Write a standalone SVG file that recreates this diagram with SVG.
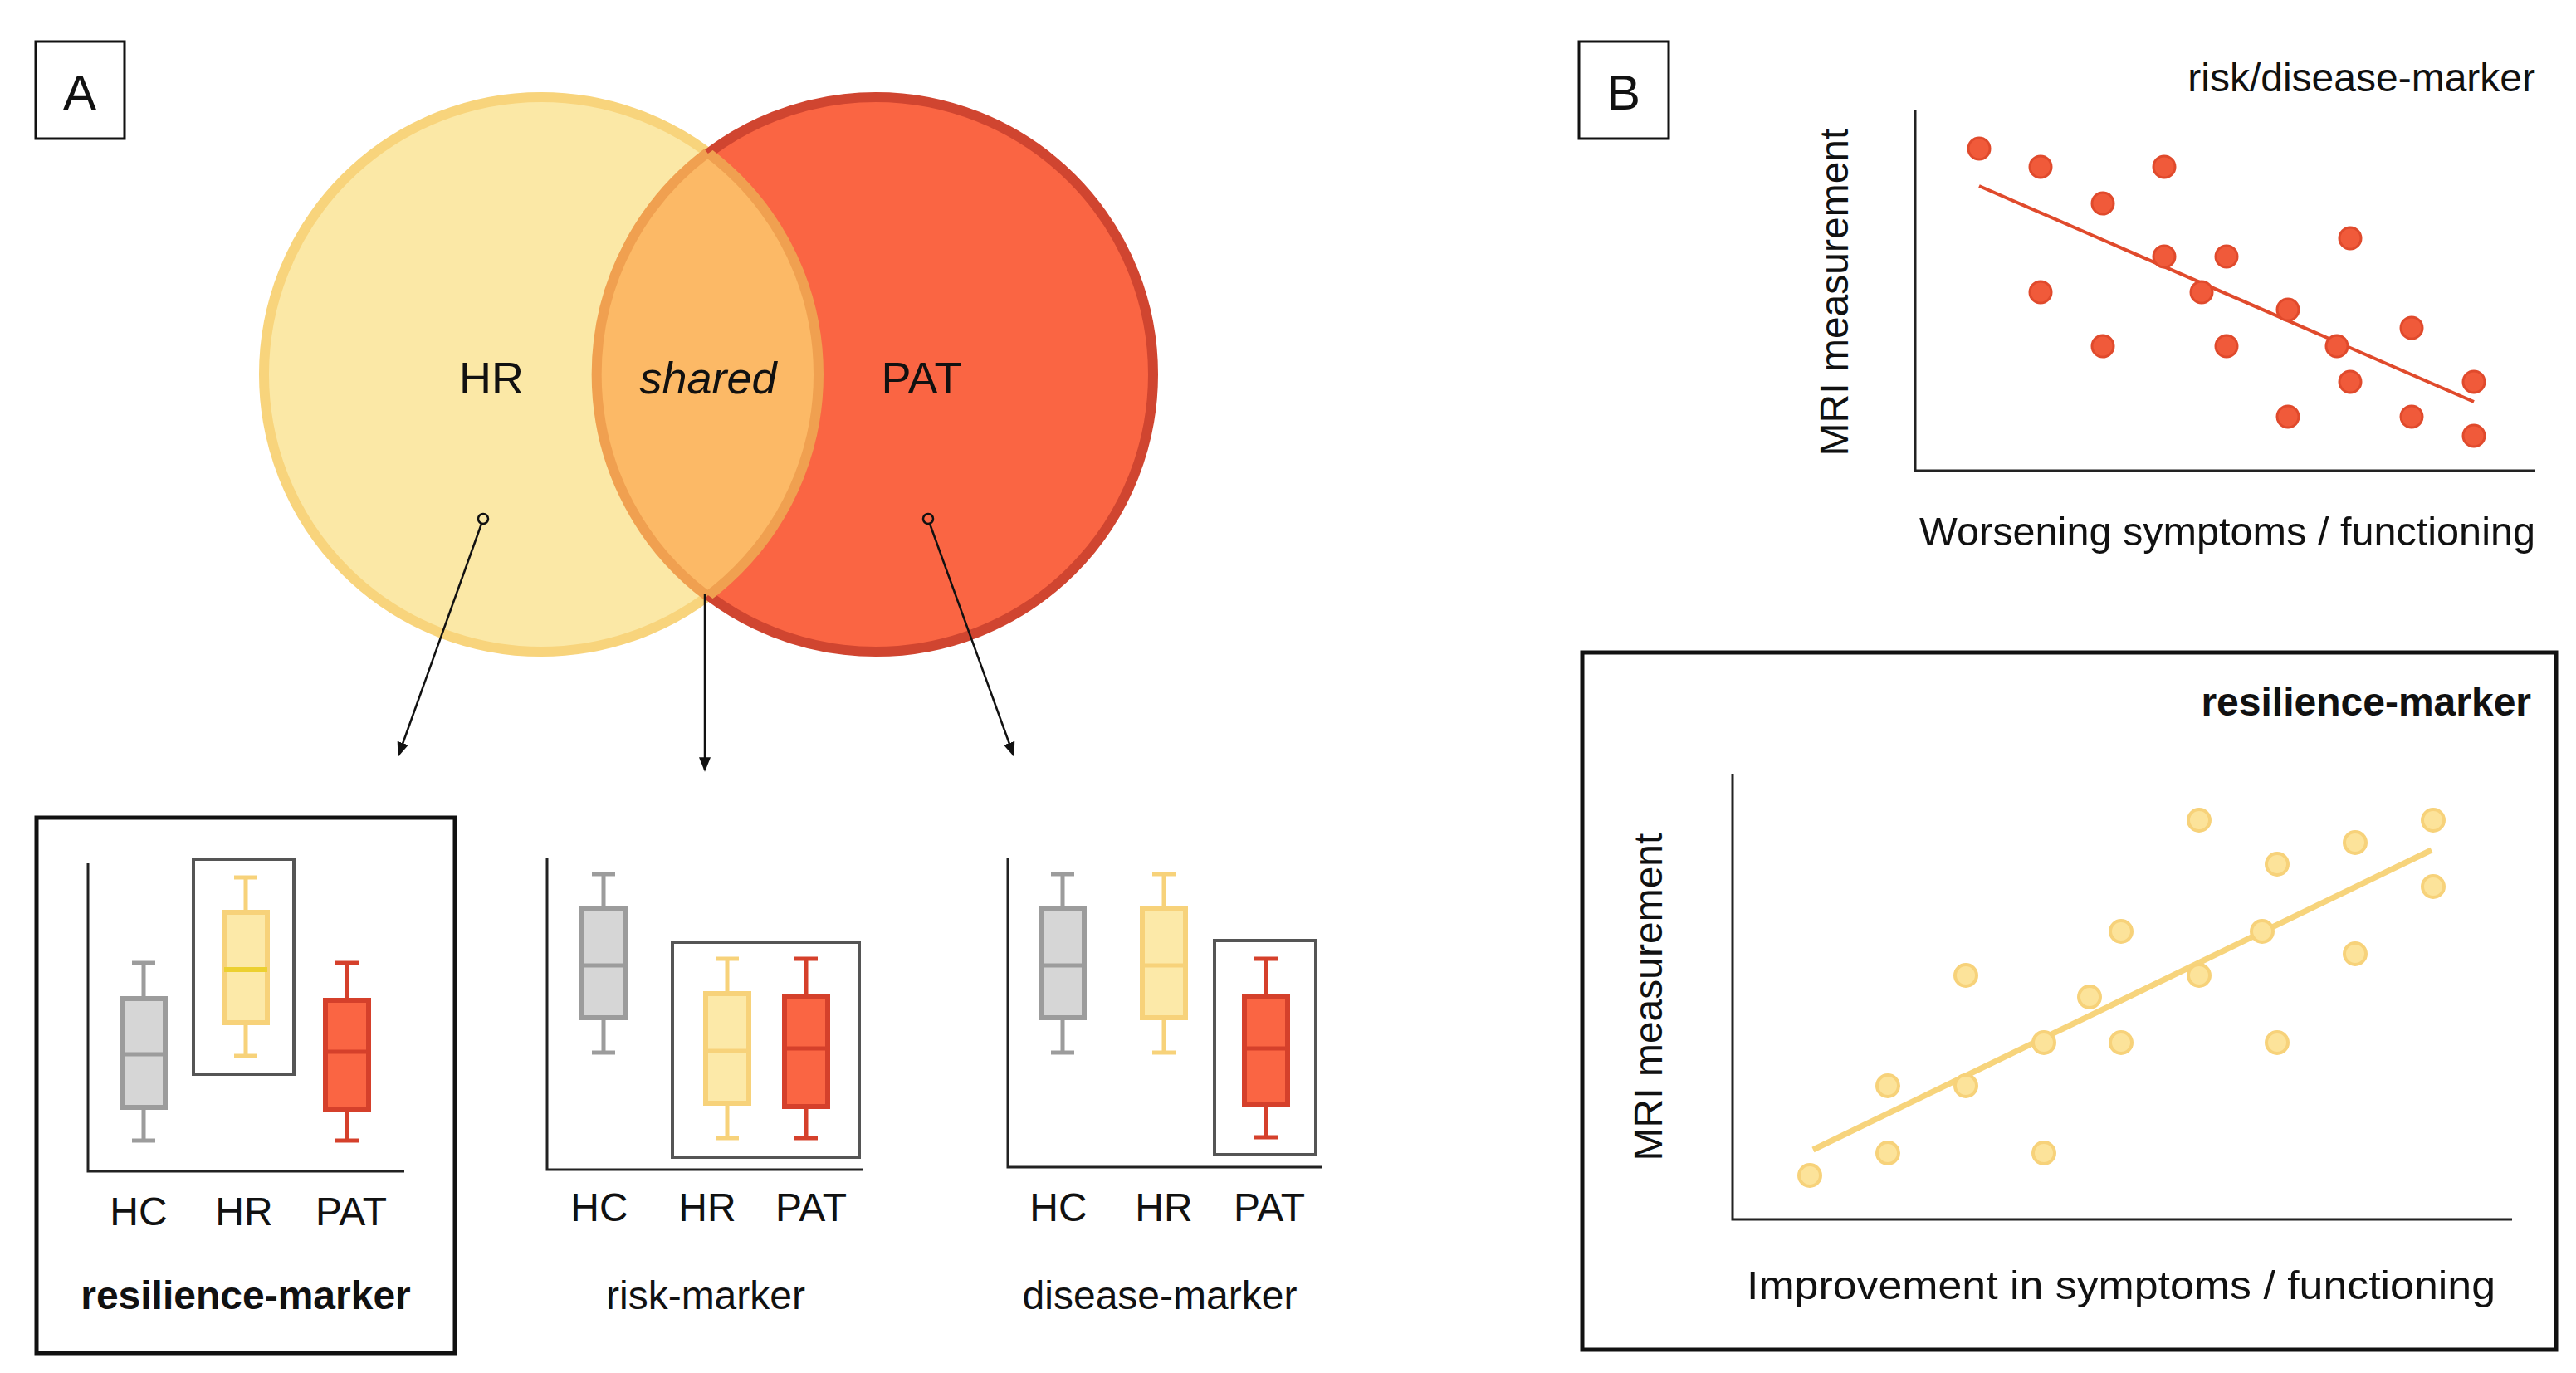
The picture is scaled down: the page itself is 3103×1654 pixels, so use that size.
<svg xmlns="http://www.w3.org/2000/svg" width="3103" height="1654" viewBox="0 0 3103 1654">
<style>
text{font-family:"Liberation Sans",Arial,sans-serif;fill:#111}
.lbl{font-size:48px;text-anchor:middle}
.frame{fill:none;stroke:#111}
.axis{fill:none;stroke:#222;stroke-width:3}
.hl{fill:none;stroke:#555;stroke-width:4}
.g{fill:#d6d6d6;stroke:#9c9c9c;stroke-width:6}
.y{fill:#fce9a8;stroke:#f7d27a;stroke-width:6}
.r{fill:#fa6543;stroke:#d5402b;stroke-width:6}
.wg{stroke:#9c9c9c;stroke-width:5}
.wy{stroke:#f7d27a;stroke-width:5}
.wr{stroke:#d5402b;stroke-width:5}
.dr{fill:#f05a3a;stroke:#e04a2c;stroke-width:3}
.dy{fill:#fce39a;stroke:#f7d27a;stroke-width:4}
.conn{stroke:#111;stroke-width:2.5;fill:none;marker-end:url(#ah)}
</style>
<defs>
<marker id="ah" viewBox="0 0 10 10" refX="9" refY="5" markerWidth="7" markerHeight="7" orient="auto"><path d="M0,1 L10,5 L0,9 z" fill="#111"/></marker>
<clipPath id="redclip"><circle cx="1055" cy="451" r="334"/></clipPath>
</defs>
<rect width="3103" height="1654" fill="#fff"/>

<g id="labelA"><rect x="43" y="50" width="107" height="117" class="frame" stroke-width="3"/><text x="96" y="132" font-size="60" text-anchor="middle">A</text></g>

<g id="venn">
<circle cx="652" cy="451" r="334" fill="#fbe8a6" stroke="#f8d47c" stroke-width="12"/>
<circle cx="1055" cy="451" r="334" fill="#fa6543" stroke="#d04530" stroke-width="12"/>
<g clip-path="url(#redclip)"><circle cx="652" cy="451" r="334" fill="#fcb966" stroke="#f0a050" stroke-width="12"/></g>
<path d="M852,184 A334,334 0 0 0 852,718" fill="none" stroke="#f0a050" stroke-width="12"/>
<text x="592" y="474" font-size="54" text-anchor="middle">HR</text>
<text x="853" y="474" font-size="54" text-anchor="middle" font-style="italic">shared</text>
<text x="1110" y="474" font-size="54" text-anchor="middle">PAT</text>
<circle cx="582" cy="625" r="6" fill="none" stroke="#111" stroke-width="2.5"/>
<circle cx="1118" cy="625" r="6" fill="none" stroke="#111" stroke-width="2.5"/>
</g>

<g id="connectors">
<line x1="580" y1="631" x2="480" y2="910" class="conn"/>
<line x1="849" y1="716" x2="849" y2="928" class="conn"/>
<line x1="1120" y1="631" x2="1221" y2="910" class="conn"/>
</g>

<g id="panel-resilience">
<rect x="44" y="985" width="504" height="645" class="frame" stroke-width="5"/>
<polyline points="106,1040 106,1411 487,1411" class="axis"/>
<rect x="233" y="1035" width="121" height="259" class="hl"/>
<line x1="173" y1="1160" x2="173" y2="1374" class="wg"/><line x1="159" y1="1160" x2="187" y2="1160" class="wg"/><line x1="159" y1="1374" x2="187" y2="1374" class="wg"/>
<rect x="147" y="1203" width="52" height="131" class="g"/><line x1="147" y1="1270" x2="199" y2="1270" class="wg"/>
<line x1="296" y1="1057" x2="296" y2="1272" class="wy"/><line x1="282" y1="1057" x2="310" y2="1057" class="wy"/><line x1="282" y1="1272" x2="310" y2="1272" class="wy"/>
<rect x="270" y="1099" width="52" height="133" class="y"/><line x1="270" y1="1168" x2="322" y2="1168" stroke="#ecd030" stroke-width="6"/>
<line x1="418" y1="1160" x2="418" y2="1374" class="wr"/><line x1="404" y1="1160" x2="432" y2="1160" class="wr"/><line x1="404" y1="1374" x2="432" y2="1374" class="wr"/>
<rect x="392" y="1205" width="52" height="131" class="r"/><line x1="392" y1="1267" x2="444" y2="1267" class="wr"/>
<text x="167" y="1476" class="lbl">HC</text><text x="294" y="1476" class="lbl">HR</text><text x="423" y="1476" class="lbl">PAT</text>
<text x="296" y="1577" class="lbl" font-weight="bold">resilience-marker</text>
</g>

<g id="panel-risk">
<polyline points="659,1033 659,1409 1040,1409" class="axis"/>
<rect x="810" y="1135" width="225" height="259" class="hl"/>
<line x1="727" y1="1053" x2="727" y2="1268" class="wg"/><line x1="713" y1="1053" x2="741" y2="1053" class="wg"/><line x1="713" y1="1268" x2="741" y2="1268" class="wg"/>
<rect x="701" y="1094" width="52" height="132" class="g"/><line x1="701" y1="1163" x2="753" y2="1163" class="wg"/>
<line x1="876" y1="1155" x2="876" y2="1371" class="wy"/><line x1="862" y1="1155" x2="890" y2="1155" class="wy"/><line x1="862" y1="1371" x2="890" y2="1371" class="wy"/>
<rect x="850" y="1197" width="52" height="132" class="y"/><line x1="850" y1="1266" x2="902" y2="1266" class="wy"/>
<line x1="971" y1="1155" x2="971" y2="1371" class="wr"/><line x1="957" y1="1155" x2="985" y2="1155" class="wr"/><line x1="957" y1="1371" x2="985" y2="1371" class="wr"/>
<rect x="945" y="1200" width="52" height="133" class="r"/><line x1="945" y1="1263" x2="997" y2="1263" class="wr"/>
<text x="722" y="1471" class="lbl">HC</text><text x="852" y="1471" class="lbl">HR</text><text x="977" y="1471" class="lbl">PAT</text>
<text x="850" y="1577" class="lbl">risk-marker</text>
</g>

<g id="panel-disease">
<polyline points="1214,1033 1214,1406 1593,1406" class="axis"/>
<rect x="1463" y="1133" width="122" height="258" class="hl"/>
<line x1="1280" y1="1053" x2="1280" y2="1268" class="wg"/><line x1="1266" y1="1053" x2="1294" y2="1053" class="wg"/><line x1="1266" y1="1268" x2="1294" y2="1268" class="wg"/>
<rect x="1254" y="1094" width="52" height="132" class="g"/><line x1="1254" y1="1163" x2="1306" y2="1163" class="wg"/>
<line x1="1402" y1="1053" x2="1402" y2="1268" class="wy"/><line x1="1388" y1="1053" x2="1416" y2="1053" class="wy"/><line x1="1388" y1="1268" x2="1416" y2="1268" class="wy"/>
<rect x="1376" y="1094" width="52" height="132" class="y"/><line x1="1376" y1="1163" x2="1428" y2="1163" class="wy"/>
<line x1="1525" y1="1155" x2="1525" y2="1370" class="wr"/><line x1="1511" y1="1155" x2="1539" y2="1155" class="wr"/><line x1="1511" y1="1370" x2="1539" y2="1370" class="wr"/>
<rect x="1499" y="1200" width="52" height="131" class="r"/><line x1="1499" y1="1263" x2="1551" y2="1263" class="wr"/>
<text x="1275" y="1471" class="lbl">HC</text><text x="1402" y="1471" class="lbl">HR</text><text x="1529" y="1471" class="lbl">PAT</text>
<text x="1397" y="1577" class="lbl">disease-marker</text>
</g>

<g transform="translate(-6,0)">
<g id="labelB"><rect x="1908" y="50" width="108" height="117" class="frame" stroke-width="3"/><text x="1962" y="132" font-size="60" text-anchor="middle">B</text></g>

<g id="scatter-risk">
<text x="3060" y="110" font-size="48" text-anchor="end">risk/disease-marker</text>
<polyline points="2313,133 2313,567 3060,567" class="axis"/>
<text transform="translate(2232,352) rotate(-90)" font-size="48" text-anchor="middle">MRI measurement</text>
<text x="2318" y="657" font-size="48" textLength="742" lengthAdjust="spacingAndGlyphs">Worsening symptoms / functioning</text>
<line x1="2390" y1="224" x2="2986" y2="484" stroke="#e04a2c" stroke-width="4"/>
<g class="dr">
<circle cx="2390" cy="179" r="13"/><circle cx="2464" cy="201" r="13"/><circle cx="2613" cy="201" r="13"/><circle cx="2539" cy="245" r="13"/><circle cx="2837" cy="287" r="13"/><circle cx="2613" cy="309" r="13"/><circle cx="2688" cy="309" r="13"/><circle cx="2464" cy="352" r="13"/><circle cx="2658" cy="352" r="13"/><circle cx="2762" cy="373" r="13"/><circle cx="2911" cy="395" r="13"/><circle cx="2539" cy="417" r="13"/><circle cx="2688" cy="417" r="13"/><circle cx="2821" cy="417" r="13"/><circle cx="2837" cy="460" r="13"/><circle cx="2986" cy="460" r="13"/><circle cx="2762" cy="502" r="13"/><circle cx="2911" cy="502" r="13"/><circle cx="2986" cy="525" r="13"/>
</g>
</g>

<g id="scatter-resilience">
<rect x="1912" y="786" width="1173" height="840" class="frame" stroke-width="5"/>
<text x="3055" y="862" font-size="48" text-anchor="end" font-weight="bold">resilience-marker</text>
<polyline points="2093,933 2093,1469 3032,1469" class="axis"/>
<text transform="translate(2008,1201) rotate(-90)" font-size="48" text-anchor="middle">MRI measurement</text>
<text x="2110" y="1565" font-size="48" textLength="902" lengthAdjust="spacingAndGlyphs">Improvement in symptoms / functioning</text>
<line x1="2190" y1="1385" x2="2935" y2="1024" stroke="#f7d47c" stroke-width="7"/>
<g class="dy">
<circle cx="2186" cy="1416" r="13"/><circle cx="2280" cy="1389" r="13"/><circle cx="2468" cy="1389" r="13"/><circle cx="2280" cy="1308" r="13"/><circle cx="2374" cy="1308" r="13"/><circle cx="2374" cy="1175" r="13"/><circle cx="2468" cy="1256" r="13"/><circle cx="2523" cy="1201" r="13"/><circle cx="2561" cy="1256" r="13"/><circle cx="2561" cy="1122" r="13"/><circle cx="2655" cy="1175" r="13"/><circle cx="2731" cy="1122" r="13"/><circle cx="2749" cy="1256" r="13"/><circle cx="2655" cy="988" r="13"/><circle cx="2749" cy="1041" r="13"/><circle cx="2843" cy="1015" r="13"/><circle cx="2843" cy="1149" r="13"/><circle cx="2937" cy="988" r="13"/><circle cx="2937" cy="1068" r="13"/>
</g>
</g>
</g>
</svg>
